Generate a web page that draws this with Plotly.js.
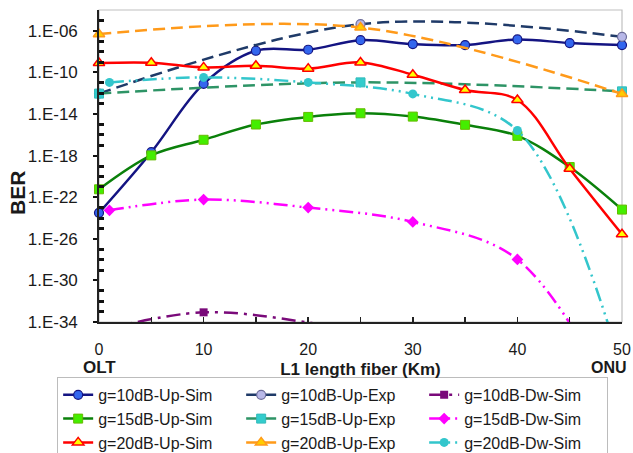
<!DOCTYPE html>
<html><head><meta charset="utf-8">
<script src="https://cdn.plot.ly/plotly-3.0.1.min.js"></script>
<style>html,body{margin:0;padding:0;background:#fff}#chart{width:633px;height:453px}</style>
</head><body><div id="chart"></div>
<script>
// Fiber length (km)
const xSim = [0,5,10,15,20,25,30,35,40,45,50];
const xExp = [0,25,50];
const xDw  = [1,10,20,30,40,50];
// BER values as log10 exponents
const g10UpSim = [-23.5,-17.67,-11.1,-7.92,-7.82,-6.9,-7.28,-7.37,-6.83,-7.18,-7.37];
const g10UpExp = [-12.04,-5.36,-6.58];
const g10DwSim = [-34.6,-33.07,-34.05,-36,-39,-45];
const g15UpSim = [-21.24,-17.98,-16.48,-15.01,-14.28,-13.93,-14.25,-15.04,-16.1,-19.1,-23.19];
const g15UpExp = [-12.04,-10.96,-11.82];
const g15DwSim = [-23.26,-22.23,-23.0,-24.38,-27.98,-43];
const g20UpSim = [-9.1,-9.07,-9.52,-9.36,-9.64,-9.04,-10.22,-11.69,-12.65,-19.26,-25.56];
const g20UpExp = [-6.32,-5.68,-12.07];
const g20DwSim = [-10.96,-10.48,-10.96,-12.07,-15.59,-38.5];
// y-axis ticks
const yTickExp = [-34,-30,-26,-22,-18,-14,-10,-6];
const yTickText = ["1.E-34","1.E-30","1.E-26","1.E-22","1.E-18","1.E-14","1.E-10","1.E-06"];
const yGridExp = [-14,-10,-6];

const p = a => a.map(v => Math.pow(10, v));
const FONT = "Liberation Sans, Arial, sans-serif";

function tr(name, x, y, line, marker, clip) {
  return {type:'scatter', mode:'lines+markers', name, x, y:p(y),
    line:Object.assign({shape:'spline', width:2.5}, line), marker, cliponaxis: clip};
}
const DASH = "12px,6px";
const DD = "14px,5px,2px,5px,2px,5px";
const traces = [
  tr('g=10dB-Up-Sim', xSim, g10UpSim, {color:'#141482'}, {symbol:'circle', size:9, color:'#3366ee', line:{color:'#141482', width:1.2}}, false),
  tr('g=10dB-Up-Exp', xExp, g10UpExp, {color:'#1f3a68', dash:DASH}, {symbol:'circle', size:9, color:'#b8b8e8', line:{color:'#6d6d9a', width:1.2}}, false),
  tr('g=10dB-Dw-Sim', xDw, g10DwSim, {color:'#7a0a7a', dash:"14px,6px,3px,6px"}, {symbol:'square', size:8, color:'#7a0a7a'}, true),
  tr('g=15dB-Up-Sim', xSim, g15UpSim, {color:'#0a800a'}, {symbol:'square', size:9, color:'#44ee00', line:{color:'#66bb00', width:1}}, false),
  tr('g=15dB-Up-Exp', xExp, g15UpExp, {color:'#2e9466', dash:DASH}, {symbol:'square', size:9, color:'#33cccc', line:{color:'#33bbbb', width:1}}, false),
  tr('g=15dB-Dw-Sim', xDw, g15DwSim, {color:'#ff00ff', dash:DD}, {symbol:'diamond', size:9, color:'#ff00ff'}, true),
  tr('g=20dB-Up-Sim', xSim, g20UpSim, {color:'#ff0000'}, {symbol:'triangle-up', size:10, color:'#ffff00', line:{color:'#ff0000', width:1.5}}, false),
  tr('g=20dB-Up-Exp', xExp, g20UpExp, {color:'#ff9a1a', dash:DASH}, {symbol:'triangle-up', size:10, color:'#ffcc00', line:{color:'#ff9a1a', width:1.5}}, false),
  tr('g=20dB-Dw-Sim', xDw, g20DwSim, {color:'#33c6cc', dash:DD}, {symbol:'circle', size:9, color:'#33c6cc'}, true)
];

const minorVals = [];
for (let e = -33; e <= -5; e++) if ((e + 34) % 4 !== 0) minorVals.push(Math.pow(10, e));

const layout = {
  width:633, height:453,
  margin:{l:99, r:11, t:9.5, b:131, autoexpand:false},
  paper_bgcolor:'#fff', plot_bgcolor:'#fff',
  font:{family:FONT, color:'#1a1a1a'},
  showlegend:true,
  xaxis:{range:[0,50], tickvals:[0,10,20,30,40,50], ticks:'inside', ticklen:5, tickwidth:1.5, tickcolor:'#222',
    minor:{tickvals:[5,15,25,35,45], ticks:'inside', ticklen:5, tickwidth:1.5, tickcolor:'#222'},
    showgrid:false, zeroline:false, showline:true, linecolor:'#222', linewidth:1.8,
    tickfont:{size:16, family:FONT}, ticklabelstandoff:12, automargin:false,
    title:{text:'<b>L1 length fiber (Km)</b>', font:{size:17, family:FONT}, standoff:6}},
  yaxis:{type:'log', range:[-34,-4], tickvals:p(yTickExp), ticktext:yTickText, automargin:false,
    ticks:'outside', ticklen:4, tickwidth:2, tickcolor:'#111',
    minor:{tickvals:minorVals, ticks:'inside', ticklen:5, tickwidth:3, tickcolor:'#111'},
    showgrid:false, zeroline:false, showline:true, linecolor:'#222', linewidth:1.8,
    tickfont:{size:17, family:FONT}, ticklabelstandoff:12},
  yaxis2:{type:'log', range:[-34,-4], overlaying:'y', tickvals:p(yGridExp), showticklabels:false, ticks:'',
    showgrid:true, gridcolor:'#b4b4b4', griddash:'dot', gridwidth:1, showline:false, zeroline:false},
  shapes:[{type:'rect', xref:'paper', yref:'paper', x0:0, x1:1, y0:0, y1:1, line:{color:'#c0c0c0', width:1.2}, layer:'below'}],
  annotations:[
    {text:'<b>BER</b>', xref:'paper', yref:'paper', x:-0.157, y:0.413, xanchor:'center', yanchor:'middle', textangle:-90, showarrow:false, font:{size:21, family:FONT}},
    {text:'<b>OLT</b>', xref:'x', yref:'paper', x:0, y:0, xanchor:'center', yanchor:'middle', yshift:-45, showarrow:false, font:{size:17, family:FONT}},
    {text:'<b>ONU</b>', xref:'x', yref:'paper', x:48.75, y:0, xanchor:'center', yanchor:'middle', yshift:-45, showarrow:false, font:{size:16, family:FONT}}
  ],
  legend:{orientation:'h', x:-0.08, xanchor:'left', y:-0.176, yanchor:'top', entrywidth:138, entrywidthmode:'pixels',
    bordercolor:'#bcbcbc', borderwidth:1, bgcolor:'#fff', font:{size:16, family:FONT}, traceorder:'normal'}
};
Plotly.newPlot('chart', traces, layout, {displayModeBar:false, staticPlot:true});
</script></body></html>
